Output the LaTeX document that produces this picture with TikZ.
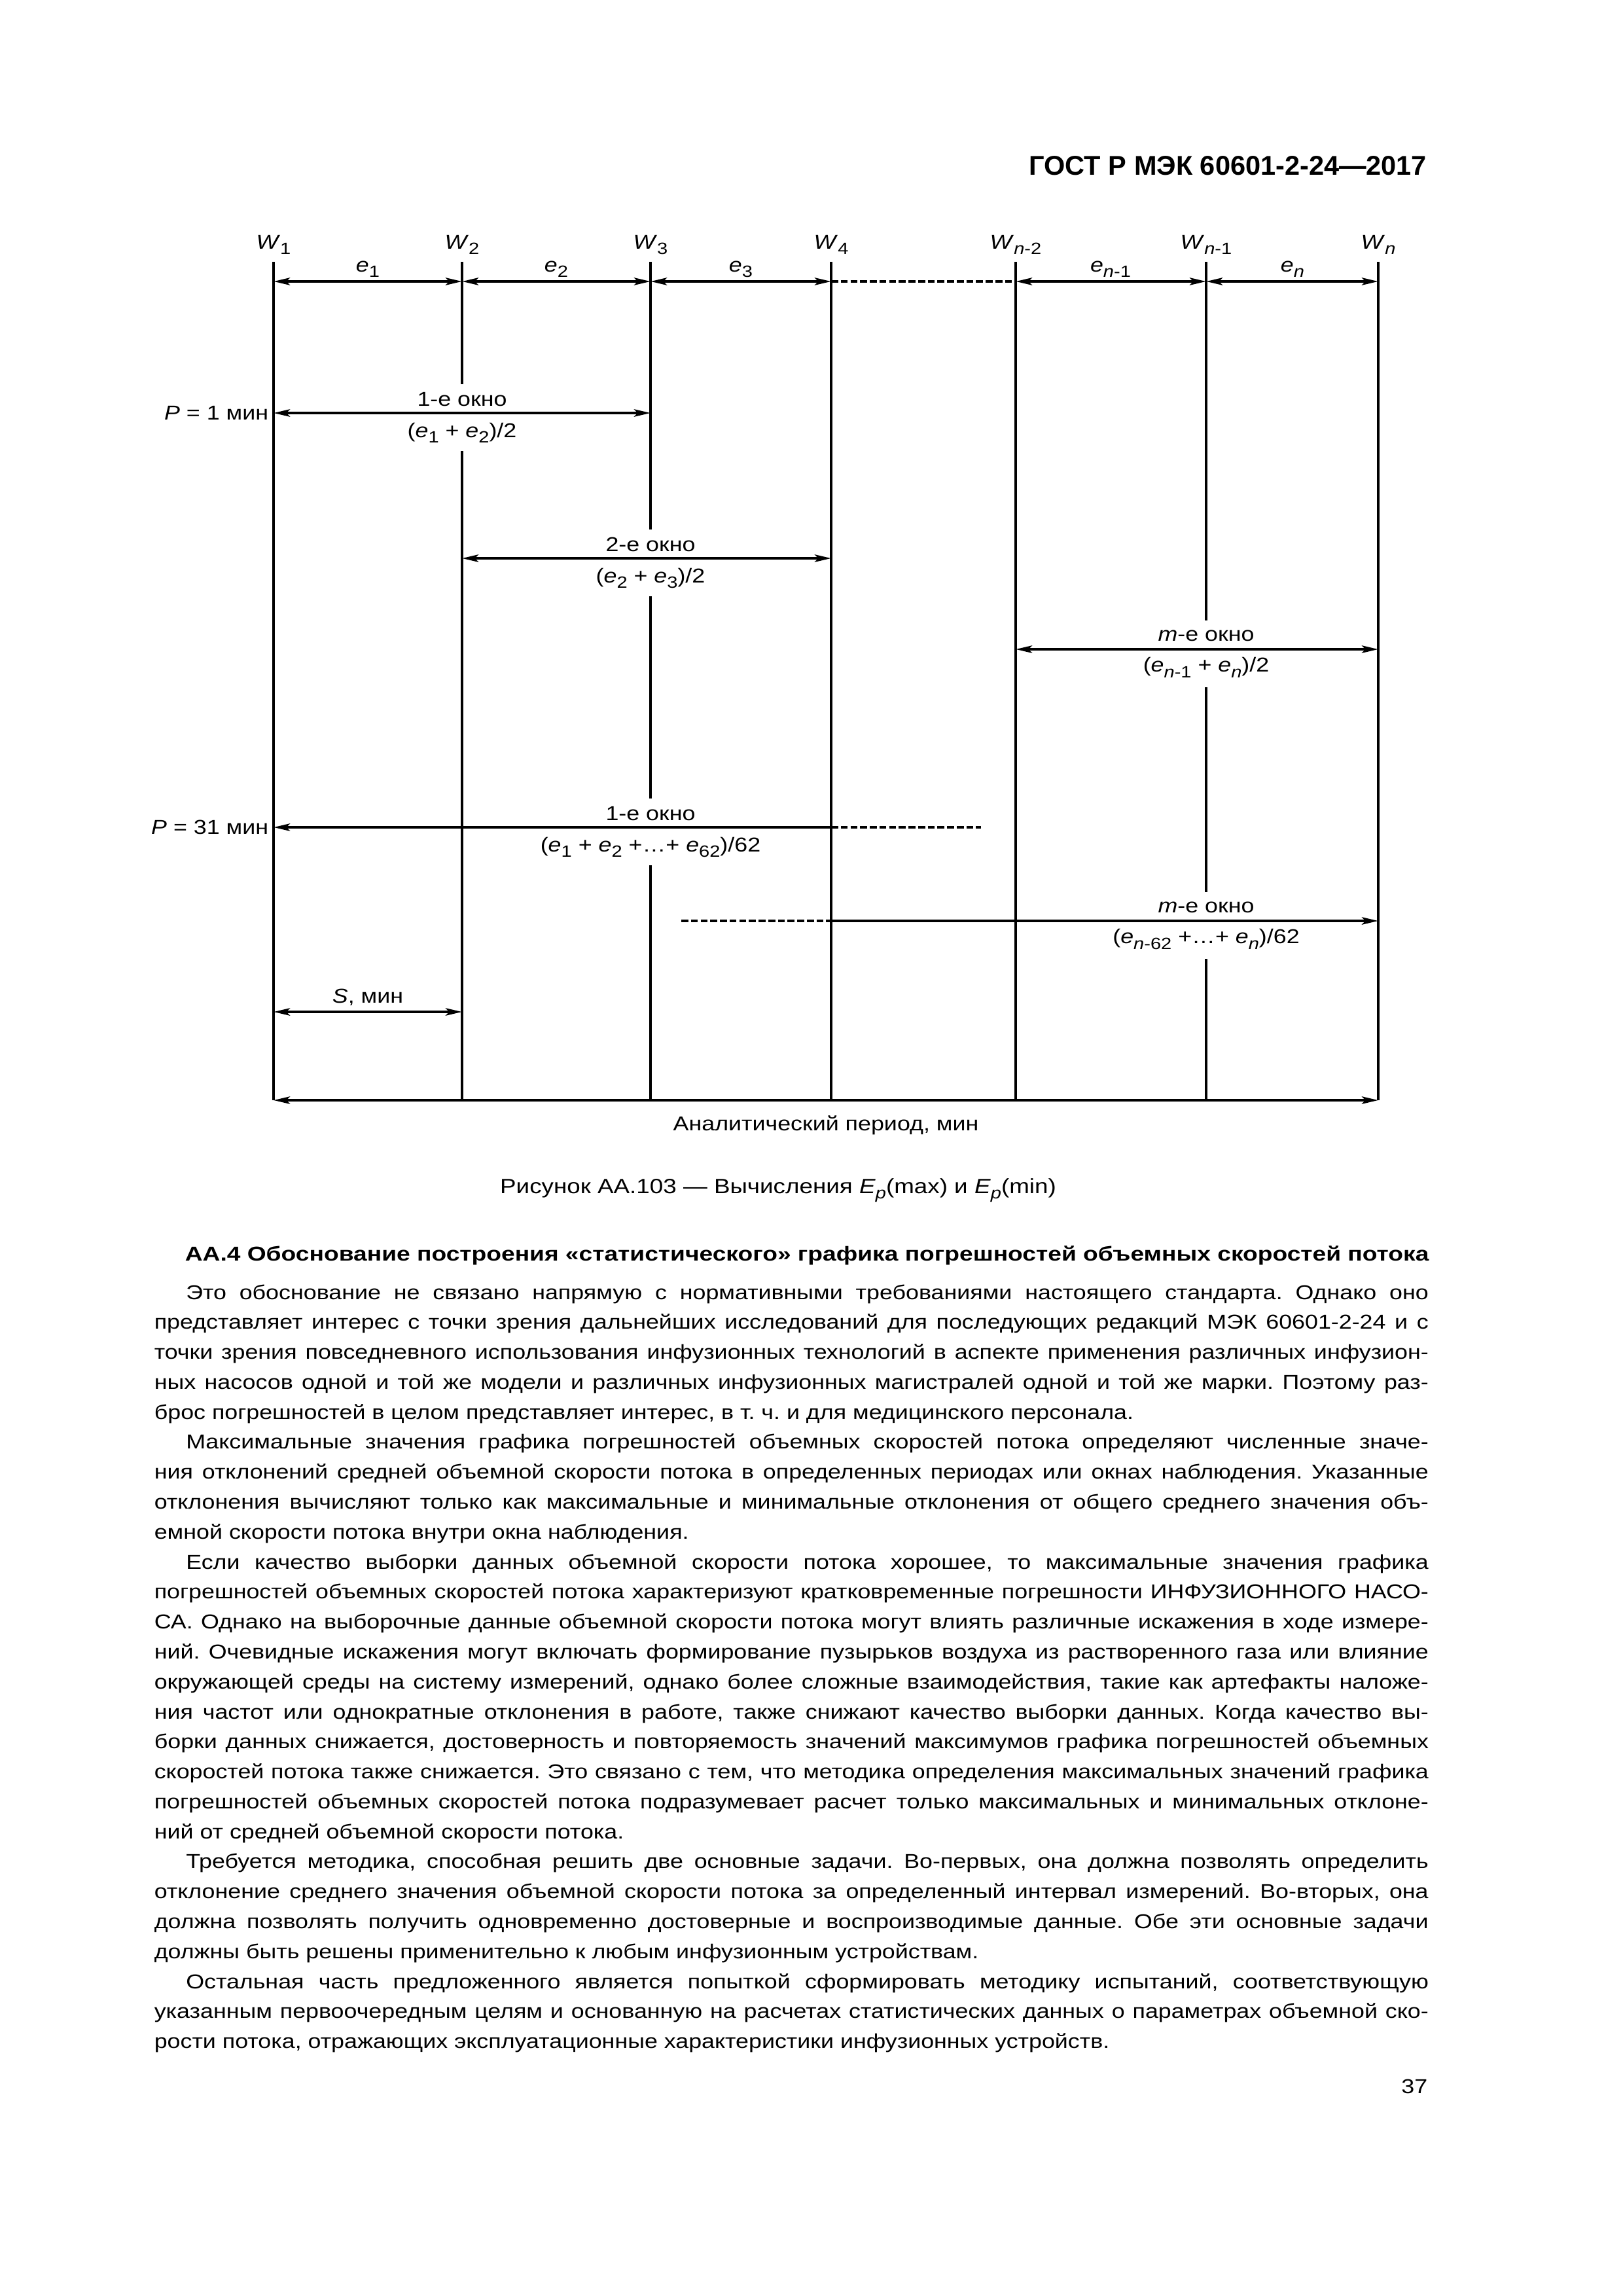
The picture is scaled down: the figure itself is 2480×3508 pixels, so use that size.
\documentclass[tikz,border=0pt]{standalone}
\usepackage{fontspec}
\setmainfont{Liberation Sans}[FakeStretch=1.166]
\newfontfamily\hdrfont{Liberation Sans}
\newfontfamily\headfont{Liberation Sans}[FakeStretch=1.21]
\usetikzlibrary{arrows.meta, positioning}
\frenchspacing

\newcommand{\bodysize}{\fontsize{7.4}{11.03}\selectfont}
\newcommand{\idx}[1]{\raisebox{-2pt}{\fontsize{6}{6}\selectfont #1}}

\begin{document}
\begin{tikzpicture}[
  x=0.084667mm, y=-0.084667mm,
  >={Stealth[length=2.1mm, width=0.95mm, inset=0.45mm]},
  wline/.style={line width=0.8pt},
  dimarr/.style={line width=1pt, <->},
  dashln/.style={line width=1pt, dash pattern=on 0.9mm off 0.35mm},
  lbl/.style={font=\bodysize, inner sep=0pt},
  winlbl/.style={fill=white, align=center, inner xsep=2pt, inner ysep=0pt,
    minimum height=8.6mm, font=\fontsize{7.4}{11.5}\selectfont}
]
  \path[fill=white] (0,0) rectangle (2480,3508);
  \useasboundingbox (0,0) rectangle (2480,3508);

  % page header
  \node[anchor=base east, inner sep=0pt,
    font=\hdrfont\bfseries\fontsize{10}{12}\selectfont] (hdr) at (2181,267)
    {ГОСТ Р МЭК 60601-2-24—2017};

  % window borders W
  \foreach \i/\x/\s in {1/418/1, 2/706/2, 3/994/3, 4/1270/4,
      5/1552/{\textit{n}-2}, 6/1843/{\textit{n}-1}, 7/2106/{\textit{n}}}{
    \coordinate (t\i) at (\x,400);
    \coordinate (a\i) at (\x,430);
    \coordinate (b\i) at (\x,1681);
    \draw[wline] (t\i) -- (b\i);
    \node[lbl, anchor=base] (w\i) at (\x,380) {\textit{W}\idx{\s}};
  }

  % intervals e
  \node[lbl, anchor=base] (e1) at (562,415) {\textit{e}\idx{1}};
  \node[lbl, anchor=base] (e2) at (850,415) {\textit{e}\idx{2}};
  \node[lbl, anchor=base] (e3) at (1132,415) {\textit{e}\idx{3}};
  \node[lbl, anchor=base] (en1) at (1697,415) {\textit{e}\idx{\textit{n}-1}};
  \node[lbl, anchor=base] (en) at (1975,415) {\textit{e}\idx{\textit{n}}};
  \draw[dimarr] (a1) -- (a2);
  \draw[dimarr] (a2) -- (a3);
  \draw[dimarr] (a3) -- (a4);
  \draw[dashln] (a4) -- (a5);
  \draw[dimarr] (a5) -- (a6);
  \draw[dimarr] (a6) -- (a7);

  % P = 1 min
  \node[winlbl] (win1) at (706,638)
    {1-е окно\\(\textit{e}\idx{1} + \textit{e}\idx{2})/2};
  \coordinate (p1l) at (418,631);
  \coordinate (p1r) at (994,631);
  \draw[dimarr] (p1l) -- (p1r);
  \node[lbl, left=0.6mm of p1l] (p1) {\textit{P} = 1 мин};

  \node[winlbl] (win2) at (994,860)
    {2-е окно\\(\textit{e}\idx{2} + \textit{e}\idx{3})/2};
  \coordinate (p2l) at (706,853);
  \coordinate (p2r) at (1270,853);
  \draw[dimarr] (p2l) -- (p2r);

  \node[winlbl] (winm) at (1843,999)
    {\textit{m}-е окно\\(\textit{e}\idx{\textit{n}-1} + \textit{e}\idx{\textit{n}})/2};
  \coordinate (pml) at (1552,992);
  \coordinate (pmr) at (2106,992);
  \draw[dimarr] (pml) -- (pmr);

  % P = 31 min
  \node[winlbl] (win31) at (994,1271)
    {1-е окно\\(\textit{e}\idx{1} + \textit{e}\idx{2} +…+ \textit{e}\idx{62})/62};
  \coordinate (q1l) at (418,1264);
  \coordinate (q1m) at (1270,1264);
  \coordinate (q1r) at (1499,1264);
  \draw[line width=1pt, <-] (q1l) -- (q1m);
  \draw[dashln] (q1m) -- (q1r);
  \node[lbl, left=0.6mm of q1l] (p31) {\textit{P} = 31 мин};

  \node[winlbl] (winm31) at (1843,1414)
    {\textit{m}-е окно\\(\textit{e}\idx{\textit{n}-62} +…+ \textit{e}\idx{\textit{n}})/62};
  \coordinate (qml) at (1041,1407);
  \coordinate (qmm) at (1270,1407);
  \coordinate (qmr) at (2106,1407);
  \draw[dashln] (qml) -- (qmm);
  \draw[line width=1pt, ->] (qmm) -- (qmr);

  % step S and analysis period
  \coordinate (s1) at (418,1546);
  \coordinate (s2) at (706,1546);
  \draw[dimarr] (s1) -- (s2);
  \node[lbl, anchor=base] (slbl) at (562,1532) {\textit{S}, мин};
  \draw[dimarr] (b1) -- (b7);
  \node[lbl, anchor=base] (axis) at (1262,1727) {Аналитический период, мин};

  % caption
  \node[lbl, anchor=base, font=\fontsize{7.6}{9}\selectfont] (cap) at (1189,1823)
    {Рисунок АА.103 — Вычисления \textit{E}\idx{\textit{p}}(max) и \textit{E}\idx{\textit{p}}(min)};

  % section heading and text
  \node[lbl, anchor=base west, font=\headfont\bfseries\fontsize{7.4}{11}\selectfont] (head) at (282,1926)
    {АА.4 Обоснование построения «статистического» графика погрешностей объемных скоростей потока};

  \node[lbl, anchor=base west, text width=164.85mm, align=justify] (body) at (235,1985)
  {\setlength{\parindent}{4.1mm}\tolerance=10000 \hbadness=10000
   \hyphenpenalty=10000 \exhyphenpenalty=10000
   \hspace*{\parindent}Это обоснование не связано напрямую с нормативными требованиями настоящего стандарта. Однако оно\linebreak
   представляет интерес с точки зрения дальнейших исследований для последующих редакций МЭК 60601-2-24 и с\linebreak
   точки зрения повседневного использования инфузионных технологий в аспекте применения различных инфузион-\linebreak
   ных насосов одной и той же модели и различных инфузионных магистралей одной и той же марки. Поэтому раз-\linebreak
   брос погрешностей в целом представляет интерес, в т. ч. и для медицинского персонала.\par
   Максимальные значения графика погрешностей объемных скоростей потока определяют численные значе-\linebreak
   ния отклонений средней объемной скорости потока в определенных периодах или окнах наблюдения. Указанные\linebreak
   отклонения вычисляют только как максимальные и минимальные отклонения от общего среднего значения объ-\linebreak
   емной скорости потока внутри окна наблюдения.\par
   Если качество выборки данных объемной скорости потока хорошее, то максимальные значения графика\linebreak
   погрешностей объемных скоростей потока характеризуют кратковременные погрешности ИНФУЗИОННОГО НАСО-\linebreak
   СА. Однако на выборочные данные объемной скорости потока могут влиять различные искажения в ходе измере-\linebreak
   ний. Очевидные искажения могут включать формирование пузырьков воздуха из растворенного газа или влияние\linebreak
   окружающей среды на систему измерений, однако более сложные взаимодействия, такие как артефакты наложе-\linebreak
   ния частот или однократные отклонения в работе, также снижают качество выборки данных. Когда качество вы-\linebreak
   борки данных снижается, достоверность и повторяемость значений максимумов графика погрешностей объемных\linebreak
   скоростей потока также снижается. Это связано с тем, что методика определения максимальных значений графика\linebreak
   погрешностей объемных скоростей потока подразумевает расчет только максимальных и минимальных отклоне-\linebreak
   ний от средней объемной скорости потока.\par
   Требуется методика, способная решить две основные задачи. Во-первых, она должна позволять определить\linebreak
   отклонение среднего значения объемной скорости потока за определенный интервал измерений. Во-вторых, она\linebreak
   должна позволять получить одновременно достоверные и воспроизводимые данные. Обе эти основные задачи\linebreak
   должны быть решены применительно к любым инфузионным устройствам.\par
   Остальная часть предложенного является попыткой сформировать методику испытаний, соответствующую\linebreak
   указанным первоочередным целям и основанную на расчетах статистических данных о параметрах объемной ско-\linebreak
   рости потока, отражающих эксплуатационные характеристики инфузионных устройств.\par};

  % page number
  \node[lbl, anchor=base east] (pnum) at (2182,3198) {37};
\end{tikzpicture}
\end{document}
